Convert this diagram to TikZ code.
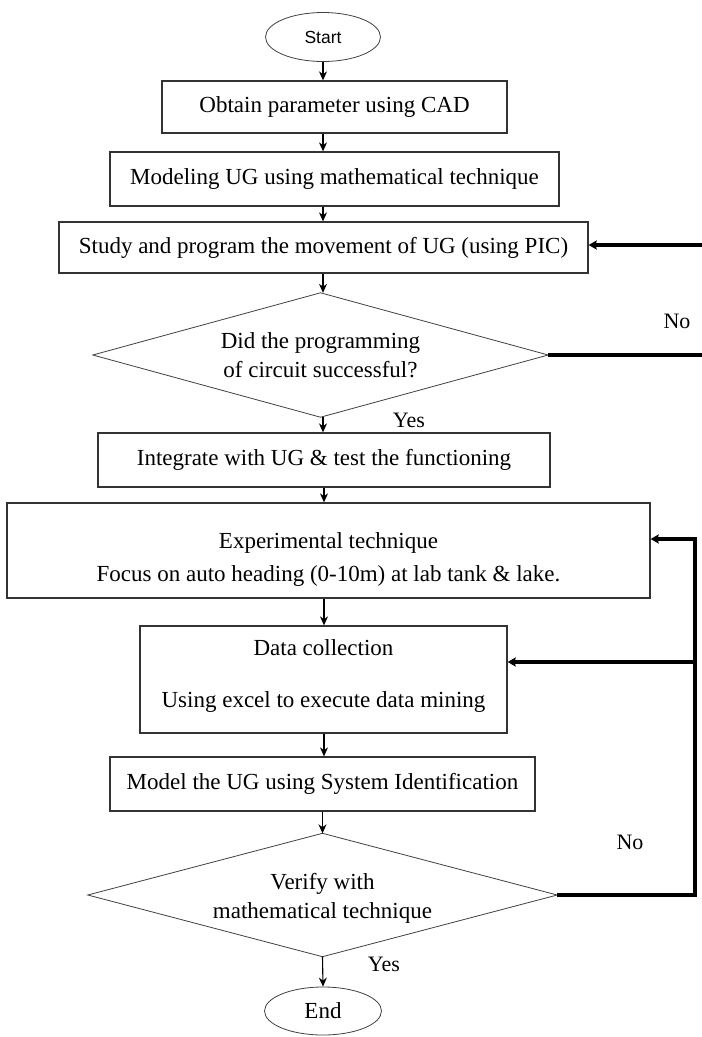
\documentclass[tikz,border=0pt]{standalone}
\usepackage{fontspec}
\setmainfont{Liberation Serif}
\newfontfamily\startfont{Liberation Sans}
\usetikzlibrary{shapes.geometric,arrows.meta}
\begin{document}
\begin{tikzpicture}[x=1pt,y=-1pt,
  every node/.style={font=\fontsize{23}{27}\selectfont, inner sep=0pt},
  procbox/.style={draw=black!80, line width=1.3pt, rectangle, align=center},
  decision/.style={rectangle, align=center},
  diamline/.style={draw=black!75, line width=0.8pt},
  term/.style={draw=black!75, line width=0.8pt, ellipse},
  flow/.style={line width=1.1pt, -{Stealth[length=9pt,width=8pt]}},
  fb/.style={line width=3.5pt},
  fbarrow/.style={line width=3.5pt, -{Stealth[length=8pt,width=9pt,inset=1pt]}},
  lbl/.style={font=\fontsize{22}{26}\selectfont}
]
\useasboundingbox (0,0) rectangle (702,1037);

\node[term, minimum width=115pt, minimum height=49pt] (start) at (323,37) {\startfont\fontsize{17.5}{20}\selectfont Start};
\node[procbox, minimum width=345pt, minimum height=52pt] (b1) at (334.5,107) {Obtain parameter using CAD};
\node[procbox, minimum width=449pt, minimum height=54pt] (b2) at (334.5,179) {Modeling UG using mathematical technique};
\node[procbox, minimum width=529pt, minimum height=51pt] (b3) at (323.5,247.5) {Study and program the movement of UG (using PIC)};
\node[decision, minimum width=455pt, minimum height=124pt] (d1) at (320.5,355) {Did the programming\\[2pt]of circuit successful?};
\draw[diamline] (d1.north) -- (d1.east) -- (d1.south) -- (d1.west) -- cycle;
\node[procbox, minimum width=452pt, minimum height=54pt] (b4) at (324,460) {Integrate with UG \& test the functioning};
\node[procbox, minimum width=643pt, minimum height=95pt] (b5) at (328.5,550.5) {};
\node[align=center] (b5t) at (328.5,559) {Experimental technique\\[6pt]Focus on auto heading (0-10m) at lab tank \& lake.};
\node[procbox, minimum width=367pt, minimum height=107pt] (b6) at (323.5,679.5) {};
\node[align=center] (b6t) at (323.5,676) {Data collection\\[25pt]Using excel to execute data mining};
\node[procbox, minimum width=425pt, minimum height=54pt] (b7) at (322.5,784) {Model the UG using System Identification};
\node[decision, minimum width=469pt, minimum height=123pt] (d2) at (322.5,895) {};
\draw[diamline] (d2.north) -- (d2.east) -- (d2.south) -- (d2.west) -- cycle;
\node[align=center] (d2t) at (322.5,898) {Verify with\\[2pt]mathematical technique};
\node[term, minimum width=117pt, minimum height=48pt] (end) at (323,1011) {End};

\node[lbl] (no1) at (677,321) {No};
\node[lbl] (yes1) at (409,420) {Yes};
\node[lbl] (no2) at (630,842) {No};
\node[lbl] (yes2) at (384,964) {Yes};

% main flow
\draw[flow] (start.south) -- (start.south |- b1.north);
\draw[flow] (b1.south -| start) -- (b2.north -| start);
\draw[flow] (b2.south -| start) -- (b3.north -| start);
\draw[flow] (b3.south -| start) -- (d1.north -| start);
\draw[flow] (d1.south -| start) -- (b4.north -| start);
\draw[flow] (b4.south -| b4) -- (b5.north -| b4);
\draw[flow] (b5.south -| b4) -- (b6.north -| b4);
\draw[flow] (b6.south -| b4) -- (b7.north -| b4);
\draw[flow] (b7.south -| d2) -- (d2.north);
\draw[flow] (d2.south) -- (end.north);

% top feedback (No)
\coordinate (e1) at (702,355);
\coordinate (e2) at (702,245);
\draw[fb] (d1.east) -- (d1.east -| e1);
\draw[fbarrow] (e2) -- (e2 -| b3.east);

% bottom feedback (No)
\coordinate (c2) at (695,539);
\coordinate (c3) at (695,662);
\draw[fb] (d2.east) -- (d2.east -| c2) -- ([yshift=-1.75pt]c2);
\draw[fbarrow] ([xshift=1.75pt]c2) -- (c2 -| b5.east);
\draw[fbarrow] (c3) -- (c3 -| b6.east);
\end{tikzpicture}
\end{document}
